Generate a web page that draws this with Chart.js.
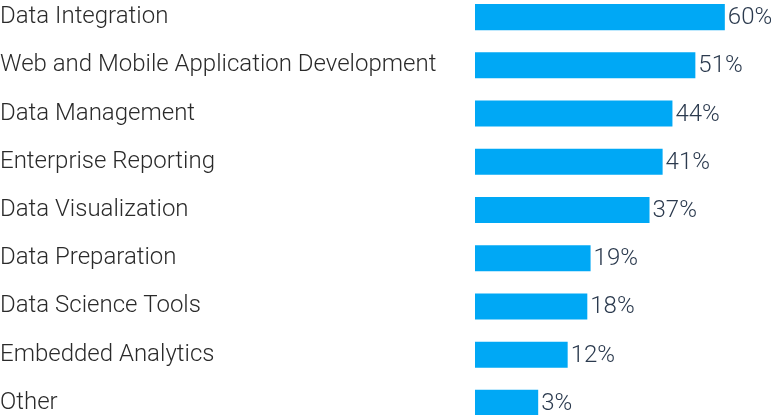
<!DOCTYPE html>
<html>
<head>
<meta charset="utf-8">
<script src="https://cdn.jsdelivr.net/npm/chart.js@4"></script>
<style>
	html, body { margin: 0; padding: 0; background: #fff; overflow: hidden; }
	#wrap { position: absolute; left: 0; top: -7px; width: 771px; height: 434px; }
</style>
</head>
<body>
<div id="wrap"><canvas id="usage_chart"></canvas></div>
<script>

var categories = [
	"Data Integration",
	"Web and Mobile Application Development",
	"Data Management",
	"Enterprise Reporting",
	"Data Visualization",
	"Data Preparation",
	"Data Science Tools",
	"Embedded Analytics",
	"Other"
];
var percents = [60, 51, 44, 41, 37, 19, 18, 12, 3];

var scaleMin = -16.3;
var scaleMax = 74.1;


// percent text just past the end of each bar
var valueLabels = {
	id: 'valueLabels',
	afterDatasetsDraw: function(chart){
		var ctx = chart.ctx;
		var meta = chart.getDatasetMeta(0);
		ctx.save();
		ctx.font = "300 24px Roboto";
		ctx.fillStyle = "#2b3a4e";
		ctx.textAlign = "left";
		ctx.textBaseline = "middle";
		meta.data.forEach(function(bar, i){
			ctx.fillText(percents[i] + "%", bar.x + 3, bar.y + 1);
		});
		ctx.restore();
	}
};


new Chart(document.getElementById("usage_chart"), {
	type: 'bar',
	data: {
		labels: categories,
		datasets: [
		{
			data: percents,
			base: scaleMin,
			backgroundColor: "#00a8f5",
			borderWidth: 0,
			barPercentage: 0.54,
			categoryPercentage: 1
		}
		]
	},
	options: {
		indexAxis: 'y',
		responsive: true,
		maintainAspectRatio: false,
		animation: false,
		layout: { padding: 0 },
		plugins: {
			legend: { display: false },
			tooltip: { enabled: false }
		},
		scales: {
			x: {
				display: false,
				min: scaleMin,
				max: scaleMax
			},
			y: {
				grid: { display: false, drawTicks: false },
				border: { display: false },
				afterFit: function(axis){
					axis.width = 475;
					axis.paddingTop = 0;
					axis.paddingBottom = 0;
				},
				ticks: {
					crossAlign: 'far',
					padding: 0,
					color: "#2a2a2a",
					font: { family: "Roboto", size: 24, weight: 300 }
				}
			}
		}
	},
	plugins: [valueLabels]
});

</script>
</body>
</html>
